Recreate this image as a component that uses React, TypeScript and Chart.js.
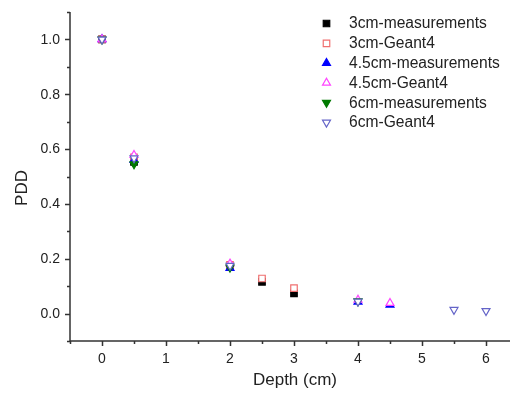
import React, { useEffect, useRef } from "react";
import { Chart, registerables } from "chart.js";
import { drawPoint } from "chart.js/helpers";

Chart.register(...registerables);

const depth3 = [0, 0.5, 2, 2.5, 3];
const meas3 = [1.0, 0.553, 0.17, 0.116, 0.074];
const geant3 = [1.0, 0.57, 0.178, 0.128, 0.093];

const depth45 = [0, 0.5, 2, 4, 4.5];
const meas45 = [1.0, 0.56, 0.166, 0.043, 0.032];
const geant45 = [1.0, 0.578, 0.182, 0.05, 0.038];

const depth6m = [0, 0.5, 2, 4];
const meas6 = [1.0, 0.545, 0.168, 0.045];
const depth6g = [0, 0.5, 2, 4, 5.5, 6];
const geant6 = [1.0, 0.567, 0.175, 0.044, 0.014, 0.01];

const xMajorTicks = [0, 1, 2, 3, 4, 5, 6];
const xMinorTicks = [-0.5, 0.5, 1.5, 2.5, 3.5, 4.5, 5.5];
const yMajorTicks = [0, 0.2, 0.4, 0.6, 0.8, 1.0];
const yMinorTicks = [-0.1, 0.1, 0.3, 0.5, 0.7, 0.9, 1.1];

const seriesLabels = [
  "3cm-measurements",
  "3cm-Geant4",
  "4.5cm-measurements",
  "4.5cm-Geant4",
  "6cm-measurements",
  "6cm-Geant4",
];

const FONT = "'Liberation Sans', Arial, sans-serif";
const AXIS = "#333";

const toXY = (xs: number[], ys: number[]) => xs.map((x, i) => ({ x, y: ys[i] }));

const axesPlugin = {
  id: "originAxes",
  afterDraw(chart: any) {
    const ctx = chart.ctx;
    const xs = chart.scales.x;
    const ys = chart.scales.y;
    const { left, right, top, bottom } = chart.chartArea;
    ctx.save();
    ctx.strokeStyle = AXIS;
    ctx.lineWidth = 1.5;
    ctx.beginPath();
    ctx.moveTo(left, top);
    ctx.lineTo(left, bottom);
    ctx.lineTo(right, bottom);
    ctx.stroke();
    // ticks
    ctx.beginPath();
    yMajorTicks.forEach((v) => {
      const p = Math.round(ys.getPixelForValue(v)) + 0.5;
      ctx.moveTo(left, p);
      ctx.lineTo(left - 5, p);
    });
    yMinorTicks.forEach((v) => {
      const p = Math.round(ys.getPixelForValue(v)) + 0.5;
      ctx.moveTo(left, p);
      ctx.lineTo(left - 3, p);
    });
    xMajorTicks.forEach((v) => {
      const p = Math.round(xs.getPixelForValue(v)) + 0.5;
      ctx.moveTo(p, bottom);
      ctx.lineTo(p, bottom + 5);
    });
    xMinorTicks.forEach((v) => {
      const p = Math.round(xs.getPixelForValue(v)) + 0.5;
      ctx.moveTo(p, bottom);
      ctx.lineTo(p, bottom + 3);
    });
    ctx.stroke();
    // labels
    ctx.fillStyle = "#222";
    ctx.font = `14px ${FONT}`;
    ctx.textAlign = "right";
    ctx.textBaseline = "middle";
    yMajorTicks.forEach((v) => {
      ctx.fillText(v.toFixed(1), left - 10, ys.getPixelForValue(v) + 0.5);
    });
    ctx.textAlign = "center";
    ctx.textBaseline = "top";
    xMajorTicks.forEach((v) => {
      ctx.fillText(String(v), xs.getPixelForValue(v), bottom + 11);
    });
    // titles
    ctx.font = `17px ${FONT}`;
    ctx.textBaseline = "top";
    ctx.fillText("Depth (cm)", 295, 372);
    ctx.save();
    ctx.translate(22, 188);
    ctx.rotate(-Math.PI / 2);
    ctx.textBaseline = "middle";
    ctx.fillText("PDD", 0, 0);
    ctx.restore();
    // legend
    ctx.font = `15.6px ${FONT}`;
    ctx.textAlign = "left";
    ctx.textBaseline = "middle";
    chart.data.datasets.forEach((ds: any, i: number) => {
      const cy = 23.5 + i * 19.8;
      ctx.fillStyle = ds.pointBackgroundColor;
      ctx.strokeStyle = ds.pointBorderColor;
      ctx.lineWidth = ds.pointBorderWidth;
      drawPoint(
        ctx,
        { pointStyle: ds.pointStyle, rotation: ds.pointRotation, radius: ds.pointRadius, borderWidth: ds.pointBorderWidth },
        326.5,
        cy
      );
      ctx.fillStyle = "#222";
      ctx.fillText(ds.label, 349, cy + 0.5);
    });
    ctx.restore();
  },
};

function mk(i: number, data: any[], style: string, rot: number, fill: string, border: string, r: number) {
  return {
    label: seriesLabels[i],
    data,
    order: 10 - i,
    showLine: false,
    pointStyle: style,
    pointRotation: rot,
    pointRadius: r,
    pointHoverRadius: r,
    pointBackgroundColor: fill,
    pointBorderColor: border,
    pointBorderWidth: 1.2,
    backgroundColor: fill,
    borderColor: border,
  };
}

export default function App() {
  const ref = useRef<HTMLCanvasElement>(null);
  useEffect(() => {
    if (!ref.current) return;
    const chart = new Chart(ref.current, {
      type: "scatter",
      data: {
        datasets: [
          mk(0, toXY(depth3, meas3), "rect", 0, "#000000", "#000000", 4.6),
          mk(1, toXY(depth3, geant3), "rect", 0, "#ffffff", "#f07070", 4.6),
          mk(2, toXY(depth45, meas45), "triangle", 0, "#0000ff", "#0000ff", 4.6),
          mk(3, toXY(depth45, geant45), "triangle", 0, "#ffffff", "#ff44ff", 4.6),
          mk(4, toXY(depth6m, meas6), "triangle", 180, "#007a00", "#007a00", 4.6),
          mk(5, toXY(depth6g, geant6), "triangle", 180, "#ffffff", "#6464c8", 4.6),
        ],
      },
      options: {
        responsive: false,
        animation: false,
        layout: { autoPadding: false, padding: { left: 70, top: 12, right: 0, bottom: 53 } },
        scales: {
          x: { type: "linear", min: -0.5, max: 6.375, display: false },
          y: { type: "linear", min: -0.1, max: 1.1, display: false },
        },
        plugins: { legend: { display: false }, tooltip: { enabled: false } },
      },
      plugins: [axesPlugin],
    });
    return () => chart.destroy();
  }, []);
  return (
    <div style={{ position: "absolute", left: 0, top: 0, width: 510, height: 394, background: "#fff" }}>
      <canvas ref={ref} width={510} height={394} style={{ width: 510, height: 394, display: "block" }} />
    </div>
  );
}
